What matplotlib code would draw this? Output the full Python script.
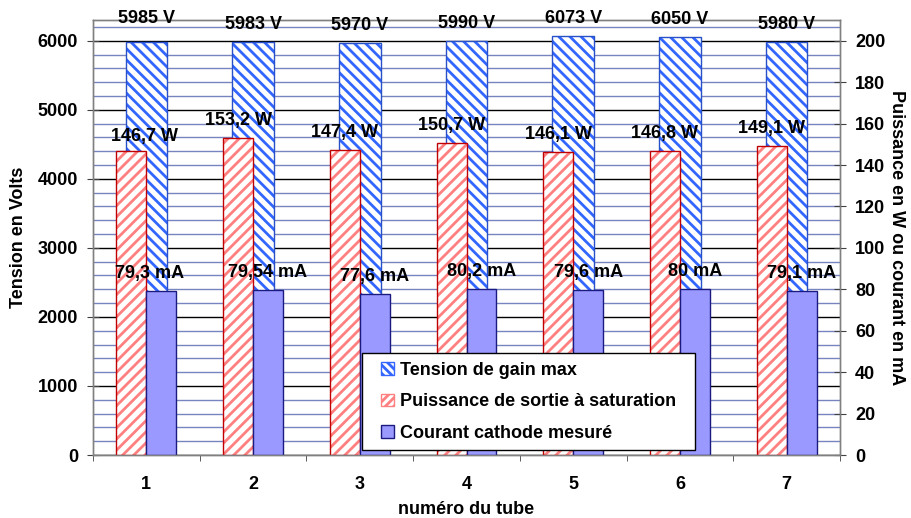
import matplotlib
matplotlib.use('Agg')
import matplotlib.pyplot as plt
from matplotlib.patches import Patch, Rectangle
from matplotlib.ticker import MultipleLocator
import numpy as np

# données des 7 tubes
tubes = ['1', '2', '3', '4', '5', '6', '7']
tension = [5985, 5983, 5970, 5990, 6073, 6050, 5980]          # V
puissance = [146.7, 153.2, 147.4, 150.7, 146.1, 146.8, 149.1]  # W
courant = [79.3, 79.54, 77.6, 80.2, 79.6, 80, 79.1]            # mA

legend_labels = ['Tension de gain max',
                 'Puissance de sortie à saturation',
                 'Courant cathode mesuré']

plt.rcParams['font.family'] = ['Liberation Sans', 'DejaVu Sans']
plt.rcParams['font.weight'] = 'bold'
plt.rcParams['axes.labelweight'] = 'bold'
plt.rcParams['font.size'] = 13
plt.rcParams['hatch.linewidth'] = 2.0

blue = '#3366ff'
red = '#ff8080'
purple = '#9999ff'
gray = '#808080'


def fmt(v, unit):
    return '{0:g} {1}'.format(v, unit).replace('.', ',')


fig = plt.figure(figsize=(9.11, 5.18), dpi=100)
ax = fig.add_axes([93 / 911, 63 / 518, 747 / 911, 435 / 518])
ax2 = ax.twinx()

x = np.arange(len(tubes))

# tension sur l'axe de gauche (derrière)
ax.bar(x, tension, 0.39, color='white', edgecolor=blue, hatch='\\\\\\', linewidth=0, zorder=2)
ax.bar(x, tension, 0.39, fill=False, edgecolor='#2850c8', linewidth=1, zorder=3)

# puissance et courant sur l'axe de droite
ax2.bar(x, puissance, -0.28, align='edge', color='white', edgecolor=red, hatch='///', linewidth=0)
ax2.bar(x, puissance, -0.28, align='edge', fill=False, edgecolor='#c00000', linewidth=1)
ax2.bar(x, courant, 0.28, align='edge', color=purple, edgecolor='#1a1a80', linewidth=1)

# étiquettes de valeurs
dy = 12.6
for i in range(len(tubes)):
    bdy, rdx, rdy, pdx = 0, 0, 0, 0
    if i == 0:
        bdy, rdx, rdy, pdx = 4, 9.4, -2, -8.6
    ax2.annotate(fmt(tension[i], 'V'), (x[i], tension[i]), xycoords=ax.transData,
                 xytext=(0, dy + bdy), textcoords='offset points', ha='center', va='center')
    ax2.annotate(fmt(puissance[i], 'W'), (x[i] - 0.14, puissance[i]),
                 xytext=(rdx, dy + rdy), textcoords='offset points', ha='center', va='center')
    ax2.annotate(fmt(courant[i], 'mA'), (x[i] + 0.14, courant[i]),
                 xytext=(pdx, dy), textcoords='offset points', ha='center', va='center')

# axes
ax.set_xlim(-0.5, len(tubes) - 0.5)
ax.set_xticks(x)
ax.set_xticklabels(tubes)
ax.set_xticks(np.arange(-0.5, len(tubes), 1), minor=True)
ax.tick_params(axis='x', which='major', length=0, pad=15)
ax.tick_params(axis='x', which='minor', length=4.5, direction='out', color='#404040')

ax.set_ylim(0, 6300)
ax.set_yticks(range(0, 7000, 1000))
ax.yaxis.set_minor_locator(MultipleLocator(200))
ax.tick_params(axis='y', which='minor', length=0)
ax.tick_params(axis='y', which='major', direction='inout', length=8, pad=6.8, color='#404040')

ax2.set_ylim(0, 210)
ax2.set_yticks(range(0, 220, 20))
ax2.tick_params(axis='y', direction='inout', length=8, pad=6.8, color='#404040')

ax.set_axisbelow(True)
ax.grid(axis='y', which='minor', color='#7884c0', linewidth=1)
ax.grid(axis='y', which='major', color='black', linewidth=1)

for a in (ax, ax2):
    for s in a.spines.values():
        s.set_color(gray)
        s.set_linewidth(1)

ax.set_xlabel('numéro du tube')
ax.xaxis.label.set_va('center')
ax.xaxis.set_label_coords(0.5, -0.126)

ax.set_ylabel('Tension en Volts')
ax.yaxis.label.set_va('center')
ax.yaxis.set_label_coords(-0.0997, 0.5)

ax2.set_ylabel('Puissance en W ou courant en mA', rotation=270)
ax2.yaxis.label.set_va('center')
ax2.yaxis.set_label_coords(1.075, 0.5)

# légende : cadre dessiné à part pour garder la largeur de l'original
frame = Rectangle((362 / 911, 1 - 450 / 518), 333 / 911, 97 / 518, transform=fig.transFigure,
                  facecolor='white', edgecolor='black', linewidth=1, zorder=4.9, clip_on=False)
ax2.add_artist(frame)
handles = [Patch(facecolor='white', edgecolor=blue, hatch='\\\\\\\\'),
           Patch(facecolor='white', edgecolor=red, hatch='////'),
           Patch(facecolor=purple, edgecolor='#1a1a80')]
leg = ax2.legend(handles, legend_labels, loc='upper left',
                 bbox_to_anchor=(381 / 911, 1 - 362 / 518), bbox_transform=fig.transFigure,
                 borderaxespad=0, borderpad=0, labelspacing=0.8,
                 handlelength=0.7, handleheight=0.7, handletextpad=0.35,
                 frameon=False)
leg.set_zorder(5)

fig.savefig('out.png', dpi=100, facecolor='white')
